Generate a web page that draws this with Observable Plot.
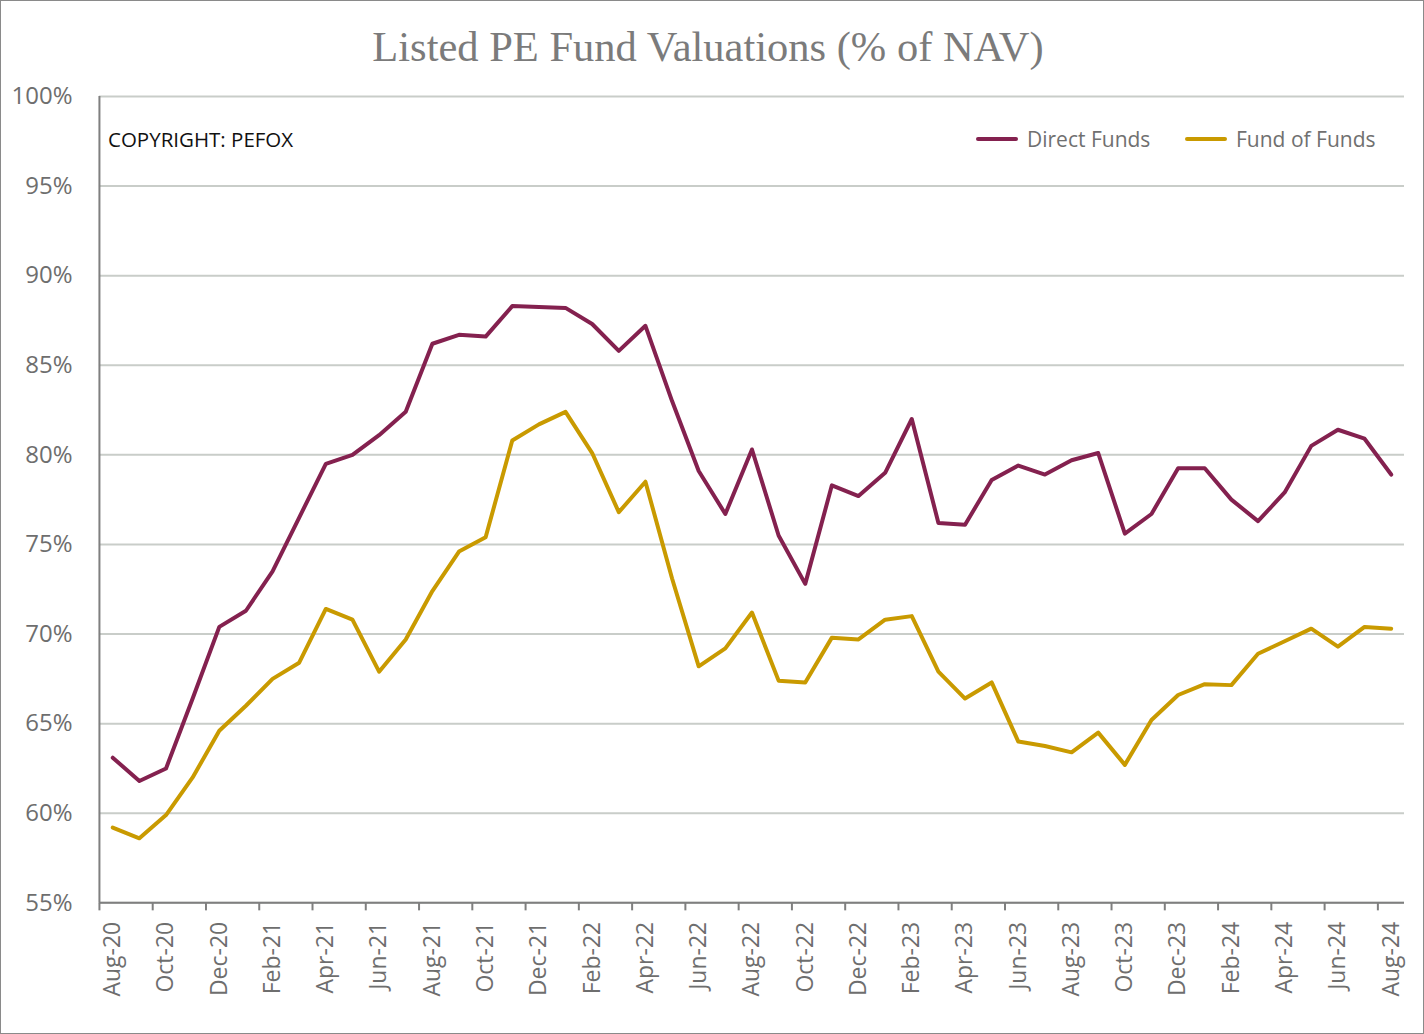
<!DOCTYPE html>
<html>
<head>
<meta charset="utf-8">
<script src="https://cdn.jsdelivr.net/npm/d3@7"></script>
<script src="https://cdn.jsdelivr.net/npm/@observablehq/plot@0.6"></script>
<style>
  html, body { margin: 0; padding: 0; background: #fff; }
  #wrap { position: relative; width: 1424px; height: 1034px; box-sizing: border-box; border: 1px solid #8a8a8a; overflow: hidden; }
  #chart { position: absolute; left: -1px; top: -1px; }
  #title { position: absolute; left: 0; width: 1414px; top: 21px; text-align: center;
           font-family: "Liberation Serif", serif; font-size: 42.5px; color: #7b7b7b; white-space: nowrap; }
  #copy { position: absolute; left: 107px; top: 124px; font-family: "Open Sans", sans-serif; font-size: 20.5px; color: #111; }
  .leg { position: absolute; top: 124px; font-family: "Open Sans", sans-serif; font-size: 21px; color: #707070; display: flex; align-items: center; white-space: nowrap; }
  .leg span.sw { display: inline-block; width: 42px; height: 4px; border-radius: 2px; margin-right: 9px; }
</style>
</head>
<body>
<div id="wrap">
  <div id="chart"></div>
  <div id="title">Listed PE Fund Valuations (% of NAV)</div>
  <div id="copy">COPYRIGHT: PEFOX</div>
  <div class="leg" id="leg1"></div>
  <div class="leg" id="leg2"></div>
</div>
<script>
const months = ["Aug-20","Sep-20","Oct-20","Nov-20","Dec-20",
  "Jan-21","Feb-21","Mar-21","Apr-21","May-21","Jun-21","Jul-21","Aug-21","Sep-21","Oct-21","Nov-21","Dec-21",
  "Jan-22","Feb-22","Mar-22","Apr-22","May-22","Jun-22","Jul-22","Aug-22","Sep-22","Oct-22","Nov-22","Dec-22",
  "Jan-23","Feb-23","Mar-23","Apr-23","May-23","Jun-23","Jul-23","Aug-23","Sep-23","Oct-23","Nov-23","Dec-23",
  "Jan-24","Feb-24","Mar-24","Apr-24","May-24","Jun-24","Jul-24","Aug-24"];

const directFunds = [63.1,61.8,62.5,66.4,70.4,71.3,73.5,76.5,79.5,80.0,
  81.1,82.4,86.2,86.7,86.6,88.3,88.25,88.2,87.3,85.8,
  87.2,83.0,79.1,76.7,80.3,75.5,72.8,78.3,77.7,79.0,
  82.0,76.2,76.1,78.6,79.4,78.9,79.7,80.1,75.6,76.7,
  79.25,79.25,77.5,76.3,77.9,80.5,81.4,80.9,78.9];

const fundOfFunds = [59.2,58.6,59.9,62.0,64.6,66.0,67.5,68.4,71.4,70.8,
  67.9,69.7,72.4,74.6,75.4,80.8,81.7,82.4,80.1,76.8,
  78.5,73.1,68.2,69.2,71.2,67.4,67.3,69.8,69.7,70.8,
  71.0,67.9,66.4,67.3,64.0,63.75,63.4,64.5,62.7,65.2,
  66.6,67.2,67.15,68.9,69.6,70.3,69.3,70.4,70.3];

const seriesNames = ["Direct Funds", "Fund of Funds"];
const seriesColors = ["#84214f", "#c99a00"];
const yTicks = [55,60,65,70,75,80,85,90,95,100];

const rows = months.flatMap((m, i) => [
  {i, v: directFunds[i], s: seriesNames[0]},
  {i, v: fundOfFunds[i], s: seriesNames[1]}
]);
const labelIdx = months.map((m, i) => i).filter(i => i % 2 === 0);
const boundaryTicks = labelIdx.map(i => i - 0.5);

const chart = Plot.plot({
  width: 1424, height: 1034,
  marginTop: 96, marginBottom: 131, marginLeft: 99, marginRight: 19,
  style: {fontFamily: "'Open Sans', sans-serif", background: "transparent"},
  x: {type: "linear", domain: [-0.5, months.length - 0.5], label: null},
  y: {domain: [55, 100], label: null},
  color: {domain: seriesNames, range: seriesColors},
  marks: [
    Plot.gridY({ticks: yTicks, stroke: "#c9cdc9", strokeOpacity: 1, strokeWidth: 2}),
    Plot.axisY({ticks: yTicks, tickFormat: d => d + "%", tickSize: 0, tickPadding: 27, fontSize: 24, fill: "#6e6e6e", label: null}),
    Plot.axisX({ticks: boundaryTicks, tickFormat: () => "", tickSize: 8, stroke: "#7f7f7f", strokeWidth: 2, label: null}),
    Plot.axisX({ticks: labelIdx, tickFormat: i => months[i], tickSize: 0, tickPadding: 19, tickRotate: -90, fontSize: 23, fill: "#6e6e6e", label: null}),
    Plot.ruleX([-0.5], {stroke: "#7f7f7f", strokeWidth: 2}),
    Plot.ruleY([55], {stroke: "#7f7f7f", strokeWidth: 2}),
    Plot.line(rows, {x: "i", y: "v", z: "s", stroke: "s", strokeWidth: 4, strokeLinejoin: "round", strokeLinecap: "round"})
  ]
});
document.getElementById("chart").appendChild(chart);

const leg1 = document.getElementById("leg1");
leg1.style.left = "975px";
leg1.innerHTML = `<span class="sw" style="background:${seriesColors[0]}"></span>${seriesNames[0]}`;
const leg2 = document.getElementById("leg2");
leg2.style.left = "1184px";
leg2.innerHTML = `<span class="sw" style="background:${seriesColors[1]}"></span>${seriesNames[1]}`;
</script>
</body>
</html>
